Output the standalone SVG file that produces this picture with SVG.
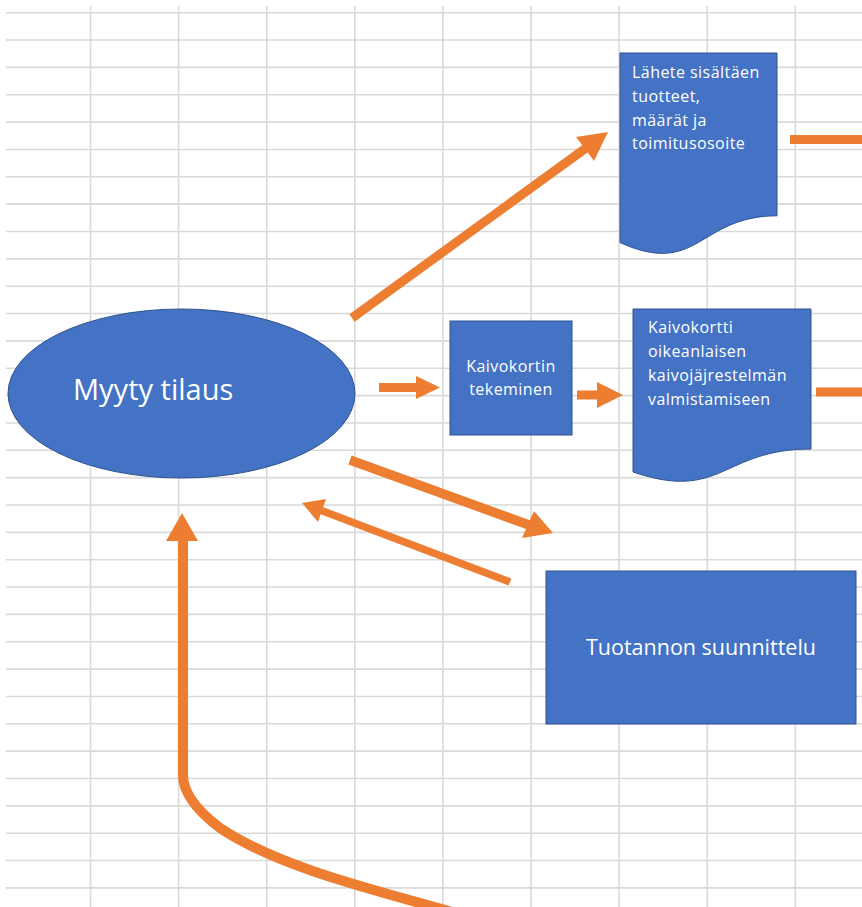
<svg xmlns="http://www.w3.org/2000/svg" width="862" height="907" viewBox="0 0 862 907">
<style>
.grid line{stroke:#d9d9d9;stroke-width:1.6}
.shape{fill:#4472c4;stroke:#2f528f;stroke-width:1}
.t{fill:#ffffff;font-family:"Open Sans","Liberation Sans",sans-serif}
.s{font-size:16px;letter-spacing:0.45px}
.c line,.c path{stroke:#ed7d31;fill:none;stroke-linecap:butt}
.c polygon{fill:#ed7d31}
</style>
<rect width="862" height="907" fill="#ffffff"/>
<g class="grid" id="grid">
<line x1="90.5" y1="6" x2="90.5" y2="907"/>
<line x1="178.6" y1="6" x2="178.6" y2="907"/>
<line x1="266.7" y1="6" x2="266.7" y2="907"/>
<line x1="354.8" y1="6" x2="354.8" y2="907"/>
<line x1="442.9" y1="6" x2="442.9" y2="907"/>
<line x1="531" y1="6" x2="531" y2="907"/>
<line x1="619.1" y1="6" x2="619.1" y2="907"/>
<line x1="707.2" y1="6" x2="707.2" y2="907"/>
<line x1="795.3" y1="6" x2="795.3" y2="907"/>
<line x1="6" y1="12.7" x2="862" y2="12.7"/>
<line x1="6" y1="40.05" x2="862" y2="40.05"/>
<line x1="6" y1="67.4" x2="862" y2="67.4"/>
<line x1="6" y1="94.75" x2="862" y2="94.75"/>
<line x1="6" y1="122.1" x2="862" y2="122.1"/>
<line x1="6" y1="149.45" x2="862" y2="149.45"/>
<line x1="6" y1="176.8" x2="862" y2="176.8"/>
<line x1="6" y1="204.15" x2="862" y2="204.15"/>
<line x1="6" y1="231.5" x2="862" y2="231.5"/>
<line x1="6" y1="258.85" x2="862" y2="258.85"/>
<line x1="6" y1="286.2" x2="862" y2="286.2"/>
<line x1="6" y1="313.55" x2="862" y2="313.55"/>
<line x1="6" y1="340.9" x2="862" y2="340.9"/>
<line x1="6" y1="368.25" x2="862" y2="368.25"/>
<line x1="6" y1="395.6" x2="862" y2="395.6"/>
<line x1="6" y1="422.95" x2="862" y2="422.95"/>
<line x1="6" y1="450.3" x2="862" y2="450.3"/>
<line x1="6" y1="477.65" x2="862" y2="477.65"/>
<line x1="6" y1="505" x2="862" y2="505"/>
<line x1="6" y1="532.35" x2="862" y2="532.35"/>
<line x1="6" y1="559.7" x2="862" y2="559.7"/>
<line x1="6" y1="587.05" x2="862" y2="587.05"/>
<line x1="6" y1="614.4" x2="862" y2="614.4"/>
<line x1="6" y1="641.75" x2="862" y2="641.75"/>
<line x1="6" y1="669.1" x2="862" y2="669.1"/>
<line x1="6" y1="696.45" x2="862" y2="696.45"/>
<line x1="6" y1="723.8" x2="862" y2="723.8"/>
<line x1="6" y1="751.15" x2="862" y2="751.15"/>
<line x1="6" y1="778.5" x2="862" y2="778.5"/>
<line x1="6" y1="805.85" x2="862" y2="805.85"/>
<line x1="6" y1="833.2" x2="862" y2="833.2"/>
<line x1="6" y1="860.55" x2="862" y2="860.55"/>
<line x1="6" y1="887.9" x2="862" y2="887.9"/>
</g>

<g id="myyty-tilaus">
<ellipse class="shape" cx="181.5" cy="393.5" rx="173.5" ry="84.5"/>
<text class="t" x="73" y="400" font-size="29">Myyty tilaus</text>
</g>

<g id="lahete">
<path class="shape" d="M620,53 H777 V215.8 C698.5,215.8 698.5,277.7 620,242.6 Z"/>
<text class="t s" x="632"><tspan x="632" y="78">Lähete sisältäen</tspan><tspan x="632" y="102">tuotteet,</tspan><tspan x="632" y="125.5">määrät ja</tspan><tspan x="632" y="149">toimitusosoite</tspan></text>
</g>

<g id="kaivokortin-tekeminen">
<rect class="shape" x="450" y="321" width="122" height="114"/>
<text class="t s" text-anchor="middle"><tspan x="511" y="372">Kaivokortin</tspan><tspan x="511" y="394.5">tekeminen</tspan></text>
</g>

<g id="kaivokortti">
<path class="shape" d="M633,309 H811 V449 C722,449 722,502.2 633,472 Z"/>
<text class="t s"><tspan x="648" y="333">Kaivokortti</tspan><tspan x="648" y="357">oikeanlaisen</tspan><tspan x="648" y="381">kaivojäjrestelmän</tspan><tspan x="648" y="405">valmistamiseen</tspan></text>
</g>

<g id="tuotannon-suunnittelu">
<rect class="shape" x="546" y="571" width="310" height="153"/>
<text class="t" x="701" y="655" font-size="21.5" text-anchor="middle">Tuotannon suunnittelu</text>
</g>

<g class="c" id="connectors">
<line x1="352" y1="318" x2="586" y2="148" stroke-width="9"/>
<polygon points="608,132 576,137 594,161"/>
<line x1="790" y1="139.5" x2="862" y2="139.5" stroke-width="9"/>
<line x1="379" y1="387.5" x2="418" y2="387.5" stroke-width="9"/>
<polygon points="416,376 440,387.5 416,399"/>
<line x1="577" y1="395" x2="599" y2="395" stroke-width="9"/>
<polygon points="597,382 623,395 597,408"/>
<line x1="816" y1="392" x2="862" y2="392" stroke-width="9"/>
<line x1="350" y1="460" x2="529" y2="525" stroke-width="9.5"/>
<polygon points="553,533 522,538 534,511"/>
<line x1="510" y1="582" x2="320" y2="510" stroke-width="7.5"/>
<polygon points="302,503 326,499 318,522"/>
<path d="M452,912 C375,890 280,868 220,828 Q183,800 183,775 V538" stroke-width="10"/>
<polygon points="182,513 166,541 198,541"/>
</g>
</svg>
